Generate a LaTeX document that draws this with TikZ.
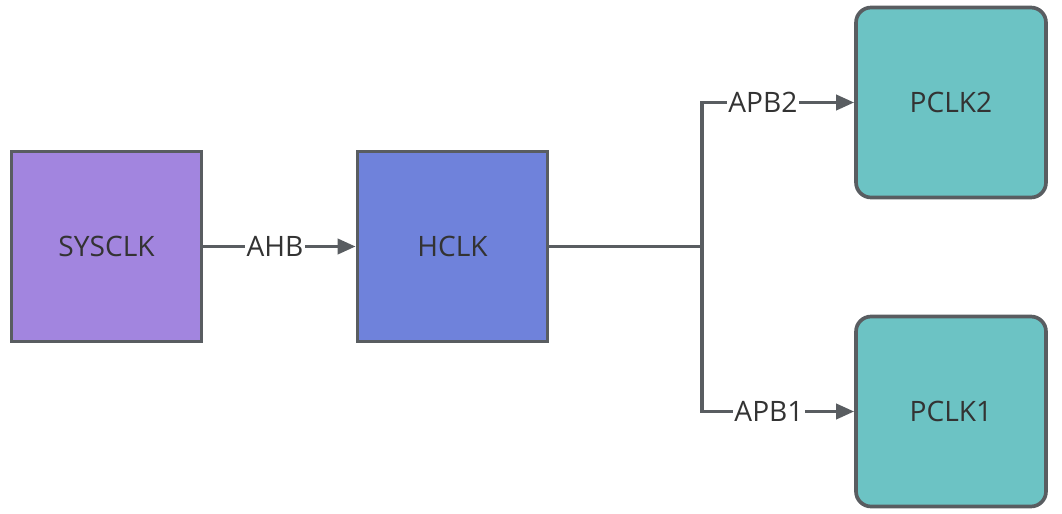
\documentclass[tikz,border=0pt]{standalone}
\usepackage{fontspec}
\setmainfont{Open Sans}
\usetikzlibrary{arrows.meta}
\definecolor{edgegray}{HTML}{595D61}
\definecolor{textgray}{HTML}{333333}
\definecolor{sysfill}{HTML}{A285DF}
\definecolor{hfill}{HTML}{6F82DB}
\definecolor{pfill}{HTML}{6CC3C4}
\begin{document}
\begin{tikzpicture}[x=0.02cm,y=-0.02cm,
  every node/.style={text=textgray, font=\fontsize{16}{19}\selectfont},
  clkbox/.style={draw=edgegray, line width=2.1pt, minimum size=3.8cm, inner sep=0pt},
  pbox/.style={clkbox, fill=pfill, rounded corners=0.3cm},
  busline/.style={draw=edgegray, line width=2.1pt},
  busarrow/.style={busline, -{Triangle[length=0.36cm,width=0.3cm]}},
  buslabel/.style={fill=white, inner sep=1pt}]

\useasboundingbox (0,0) rectangle (1062,514);

\node[clkbox, fill=sysfill] (sysclk) at (106.5,246.5) {SYSCLK};
\node[clkbox, fill=hfill] (hclk) at (452.5,246.5) {HCLK};
\node[pbox] (pclk2) at (951,102.5) {PCLK2};
\node[pbox] (pclk1) at (951,411.5) {PCLK1};
\coordinate (split) at (702,246.5);

\draw[busarrow] (sysclk) -- node[buslabel, pos=0.47] {AHB} (hclk);
\draw[busline] (hclk) -- (split);
\draw[busarrow] (split) |- node[buslabel, pos=0.7] {APB2} (pclk2);
\draw[busarrow] (split) |- node[buslabel, pos=0.72] {APB1} (pclk1);
\end{tikzpicture}
\end{document}
